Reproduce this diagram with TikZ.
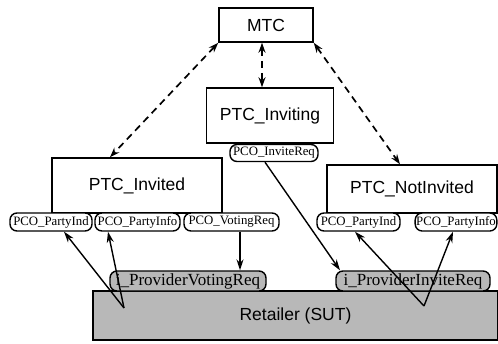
\documentclass[tikz,border=0pt]{standalone}
\usepackage{fontspec}
\setmainfont{Liberation Serif}
\setsansfont{Liberation Sans}
\usetikzlibrary{arrows.meta}
\begin{document}
\begin{tikzpicture}[x=1pt,y=-1pt]
\tikzstyle{ptc}=[anchor=center,rectangle,draw=black,line width=1.5pt,fill=white,text centered,font=\sffamily\fontsize{17.5}{20}\selectfont]
\tikzstyle{pco}=[anchor=center,rectangle,rounded corners=7pt,draw=black,line width=1.4pt,fill=white,inner xsep=1pt,inner ysep=0pt,minimum height=18pt,font=\fontsize{12.8}{14}\selectfont]
\tikzstyle{iport}=[pco,fill=black!28,minimum height=20pt,font=\fontsize{17}{18}\selectfont]
\tikzstyle{sut}=[anchor=center,rectangle,draw=black,line width=1.5pt,fill=black!28,font=\sffamily\fontsize{17.5}{20}\selectfont]
\tikzstyle{link}=[dashed,dash pattern=on 7pt off 5pt,line width=1.7pt,{Stealth[length=10pt,width=7pt]}-{Stealth[length=10pt,width=7pt]}]
\tikzstyle{arrow}=[-{Stealth[length=11pt,width=7pt]},line width=1.4pt]

\useasboundingbox (0,0) rectangle (498,343);

\node [sut,minimum width=405pt,minimum height=49pt] at (295.5,315.5) (retailer) {Retailer (SUT)};

\node [ptc,minimum width=94pt,minimum height=34pt] at (266,25) (mtc) {MTC};
\node [ptc,minimum width=127pt,minimum height=55pt] at (270,115.5) (inviting) {PTC\_Inviting};
\node [ptc,minimum width=170pt,minimum height=55pt] at (137,185.5) (invited) {PTC\_Invited};
\node [ptc,minimum width=170pt,minimum height=48pt] at (412,189) (notinvited) {PTC\_NotInvited};

\node [pco,minimum width=88pt,minimum height=17pt] at (274,153) (invitereq) {PCO\_InviteReq};
\node [pco,minimum width=82pt] at (51,222) (partyindA) {PCO\_PartyInd};
\node [pco,minimum width=85pt] at (137.5,222) (partyinfoA) {PCO\_PartyInfo};
\node [pco,minimum width=95pt] at (231.5,222) (votingreq) {PCO\_VotingReq};
\node [pco,minimum width=83pt] at (358.5,222) (partyindB) {PCO\_PartyInd};
\node [pco,minimum width=81pt] at (456,222) (partyinfoB) {PCO\_PartyInfo};

\node [iport,minimum width=156pt] at (188,281) (ipvoting) {i\_ProviderVotingReq};
\node [iport,minimum width=154pt] at (413,281) (ipinvite) {i\_ProviderInviteReq};

\draw [link] (mtc.south west) -- ([xshift=-27pt]invited.north);
\draw [link] ([xshift=-4pt]mtc.south) -- ([xshift=-8pt]inviting.north);
\draw [link] (mtc.south east) -- ([xshift=-12pt]notinvited.north);

\draw [arrow] ([xshift=-9pt]invitereq.south) -- ([xshift=-73pt]ipinvite.north);
\draw [arrow] ([xshift=8.5pt]votingreq.south) -- ([xshift=8.5pt]votingreq.south |- ipvoting.north);

\coordinate (lfork) at (124,308);
\coordinate (rfork) at (424,306);
\draw [arrow] (lfork) -- ([xshift=13pt]partyindA.south);
\draw [arrow] (lfork) -- ([xshift=-29.5pt]partyinfoA.south);
\draw [arrow] (rfork) -- ([xshift=-3.5pt]partyindB.south);
\draw [arrow] (rfork) -- ([xshift=-3pt]partyinfoB.south);
\end{tikzpicture}
\end{document}
